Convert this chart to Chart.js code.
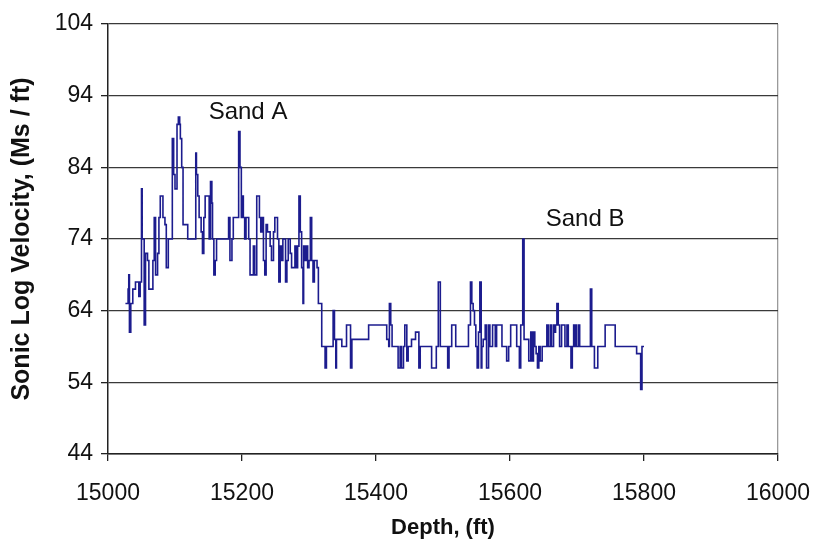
<!DOCTYPE html>
<html lang="en">
<head>
  <meta charset="UTF-8" />
  <title>Sonic log</title>
  <script src="https://cdn.jsdelivr.net/npm/chart.js"></script>
<style>
  body {
    margin: 0;
    background: #fff;
  }
  #wrap {
    width: 815px;
    height: 546px;
  }
</style>
</head>
<body>
  <div id="wrap">
    <canvas id="chart" width="815" height="546"></canvas>
  </div>

  <script>
    // depth (ft) where each new velocity reading starts
    const depths = [
      15026, 15030, 15031, 15032, 15034, 15037, 15041, 15046, 15048, 15050,
      15051, 15054, 15056, 15059, 15061, 15067, 15069, 15071, 15074, 15076,
      15078, 15082, 15085, 15087, 15090, 15096, 15098, 15100, 15103, 15105,
      15107, 15108, 15110, 15112, 15119, 15131, 15132, 15134, 15136, 15139,
      15141, 15143, 15145, 15151, 15153, 15155, 15156, 15158, 15160, 15162,
      15180, 15182, 15185, 15187, 15195, 15197, 15199, 15200, 15202, 15204,
      15206, 15210, 15212, 15217, 15219, 15222, 15226, 15228, 15230, 15232,
      15234, 15236, 15238, 15242, 15244, 15247, 15249, 15253, 15255, 15257,
      15259, 15261, 15265, 15267, 15269, 15272, 15274, 15279, 15281, 15283,
      15285, 15287, 15289, 15291, 15292, 15294, 15296, 15298, 15300, 15302,
      15304, 15306, 15308, 15312, 15314, 15319, 15324, 15326, 15336, 15338,
      15340, 15341, 15349, 15356, 15362, 15364, 15389, 15416, 15419, 15420,
      15422, 15424, 15433, 15436, 15438, 15441, 15443, 15446, 15448, 15453,
      15459, 15464, 15466, 15483, 15490, 15493, 15496, 15507, 15509, 15513,
      15519, 15538, 15541, 15543, 15545, 15547, 15549, 15551, 15553, 15555,
      15557, 15558, 15560, 15563, 15565, 15568, 15570, 15574, 15578, 15580,
      15588, 15595, 15598, 15601, 15610, 15614, 15616, 15619, 15621, 15628,
      15631, 15633, 15635, 15637, 15639, 15641, 15643, 15645, 15648, 15655,
      15657, 15660, 15662, 15665, 15666, 15668, 15670, 15672, 15674, 15677,
      15682, 15685, 15687, 15691, 15693, 15695, 15696, 15698, 15699, 15702,
      15704, 15720, 15722, 15726, 15731, 15742, 15757, 15789, 15795, 15797,
      15800
    ];

    const velocity = [
      65, 67, 69, 61, 65, 67, 68, 66, 68, 81,
      74, 62, 72, 71, 67, 71, 77, 69, 72, 77,
      80, 77, 76, 70, 74, 88, 83, 81, 90, 91,
      90, 88, 84, 76, 74, 86, 83, 80, 77, 75,
      72, 77, 80, 74, 82, 79, 74, 69, 71, 74,
      77, 71, 74, 77, 89, 84, 77, 80, 77, 74,
      77, 74, 69, 73, 69, 80, 77, 75, 77, 71,
      69, 76, 75, 73, 71, 75, 77, 74, 68, 73,
      71, 74, 68, 71, 74, 72, 70, 73, 70, 73,
      80, 75, 70, 65, 73, 71, 73, 70, 71, 77,
      71, 68, 71, 70, 65, 59, 56, 59, 64, 60,
      56, 60, 59, 62, 56, 60, 62, 60, 59, 65,
      62, 59, 56, 59, 56, 59, 62, 57, 59, 60,
      61, 56, 59, 56, 59, 68, 59, 56, 59, 62,
      59, 62, 68, 65, 64, 62, 59, 56, 61, 68,
      56, 59, 60, 62, 56, 62, 59, 62, 59, 62,
      59, 57, 59, 62, 59, 56, 62, 74, 60, 57,
      61, 57, 61, 59, 58, 56, 59, 57, 59, 62,
      59, 62, 59, 62, 61, 62, 65, 62, 59, 62,
      59, 62, 59, 56, 59, 62, 59, 62, 59, 62,
      59, 67, 59, 56, 59, 62, 59, 58, 53, 59,
      59
    ];

    const xTicks = [15000, 15200, 15400, 15600, 15800, 16000];
    const yTicks = [44, 54, 64, 74, 84, 94, 104];

    const labels = [
      { text: "Sand A", depth: 15209, value: 91.7 },
      { text: "Sand B", depth: 15712, value: 76.7 }
    ];

    const FONT = "'Liberation Sans', Arial, sans-serif";

    const labelPlugin = {
      id: "sandLabels",
      afterDatasetsDraw(chart) {
        const c = chart.ctx;
        const xs = chart.scales.x, ys = chart.scales.y;
        c.save();
        c.font = "24px " + FONT;
        c.fillStyle = "#111";
        c.textAlign = "center";
        c.textBaseline = "middle";
        labels.forEach(l => {
          c.fillText(l.text, xs.getPixelForValue(l.depth), ys.getPixelForValue(l.value));
        });
        c.restore();
      }
    };

    const points = depths.map((d, i) => ({ x: d, y: velocity[i] }));

    new Chart(document.getElementById("chart").getContext("2d"), {
      type: "line",
      data: {
        datasets: [{
          data: points,
          stepped: true,
          borderColor: "#1c1c8e",
          borderWidth: 1.6,
          pointRadius: 0,
          fill: false
        }]
      },
      options: {
        responsive: false,
        animation: false,
        layout: { padding: { left: 0, right: 37, top: 24, bottom: 0 } },
        plugins: {
          legend: { display: false },
          tooltip: { enabled: false }
        },
        scales: {
          x: {
            type: "linear",
            min: 15000,
            max: 16000,
            afterBuildTicks: s => { s.ticks = xTicks.map(v => ({ value: v })); },
            afterFit: s => {
              s.height = 92;
              s.paddingLeft = 0;
              s.paddingRight = 0;
            },
            ticks: {
              color: "#111",
              font: { family: FONT, size: 23 },
              padding: 19,
              maxRotation: 0,
              callback: v => String(v)
            },
            grid: {
              color: ctx => ctx.tick && ctx.tick.value === 16000 ? "#9a9a9a" : "rgba(0,0,0,0)",
              tickColor: "#222",
              tickLength: 7,
              lineWidth: 1.3
            },
            border: { display: true, color: "#222", width: 1.5 },
            title: {
              display: true,
              text: "Depth, (ft)",
              color: "#111",
              font: { family: FONT, size: 22, weight: "bold" },
              padding: { top: 4, bottom: 5 }
            }
          },
          y: {
            min: 44,
            max: 104,
            afterBuildTicks: s => { s.ticks = yTicks.map(v => ({ value: v })); },
            afterFit: s => {
              s.width = 108;
              s.paddingTop = 0;
              s.paddingBottom = 0;
            },
            ticks: {
              color: "#111",
              font: { family: FONT, size: 23 },
              padding: 8,
              callback: v => String(v)
            },
            grid: {
              color: "#3a3a3a",
              tickColor: "#222",
              tickLength: 7,
              lineWidth: 1.3
            },
            border: { display: true, color: "#222", width: 1.5 },
            title: {
              display: true,
              text: "Sonic Log Velocity, (Ms / ft)",
              color: "#111",
              font: { family: FONT, size: 25, weight: "bold" },
              padding: { top: 7, bottom: 4 }
            }
          }
        }
      },
      plugins: [labelPlugin]
    });
  </script>
</body>
</html>
